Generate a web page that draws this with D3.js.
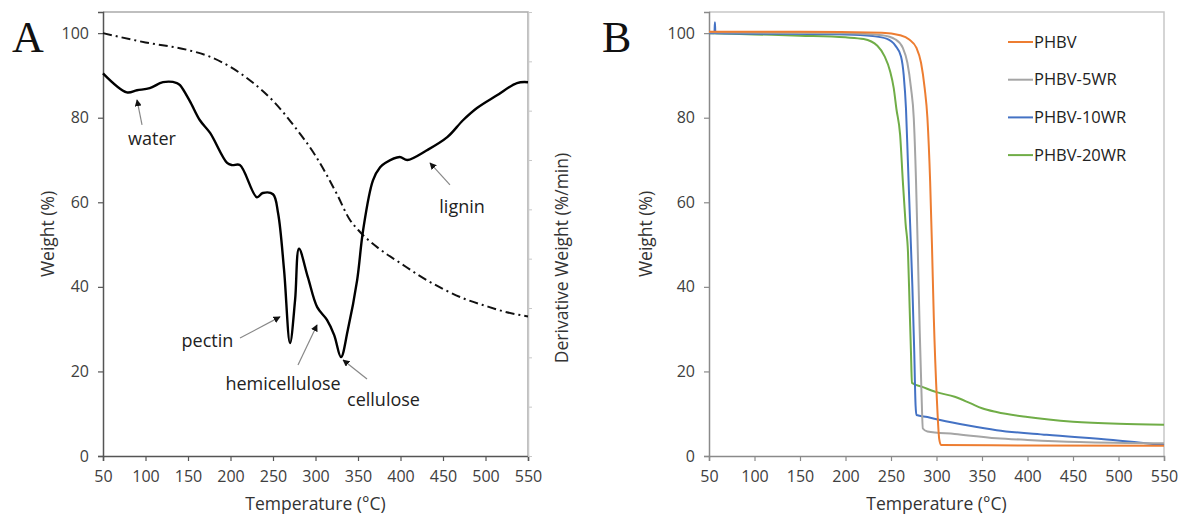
<!DOCTYPE html>
<html>
<head>
<meta charset="utf-8">
<script src="https://cdn.jsdelivr.net/npm/d3@7"></script>
<style>
  body { margin: 0; background: #fff; }
  text { font-family: "Open Sans", sans-serif; }
</style>
</head>
<body>
<div id="viz"></div>
<script>
// ---- panel A: weight loss + derivative ----
var tempDTG = [50, 78, 90, 105, 120.6, 137, 140.6, 152, 164, 176, 196, 202, 211, 231, 238, 250, 256, 263, 270, 276, 280.6, 291, 302, 313.5, 322, 330, 338, 349, 356, 367.6, 376, 382, 399, 408, 431, 455, 473.5, 490, 513.5, 537, 550];
var dtg     = [90.5, 86, 86.5, 87, 88.4, 88.2, 87.7, 84, 79.4, 76.4, 69.3, 68.8, 68.8, 61.2, 62.2, 61.9, 57.4, 44, 26.7, 36.9, 49, 42.3, 35.2, 32.2, 28.6, 23.4, 29.8, 41.6, 53.4, 65.2, 68.3, 69.3, 70.7, 70, 72.3, 75.4, 79.4, 82.3, 85.3, 88.2, 88.4];

var tempTG = [50, 100, 150, 175, 200, 225, 250, 275, 300, 325, 340, 350, 375, 400, 425, 450, 475, 500, 525, 550];
var tg     = [100, 97.8, 96, 94.5, 92, 88.5, 84, 78, 71, 62, 56, 53.5, 49, 45.6, 42.3, 39.5, 37.2, 35.5, 34, 33];

var notes = [
  {label: "water",         tx: 107.6, ty: 73.5, x1: 95.9,  y1: 78.3, x2: 90,    y2: 84.2},
  {label: "lignin",        tx: 472.4, ty: 57.4, x1: 458.2, y1: 64.1, x2: 434.7, y2: 69.3},
  {label: "pectin",        tx: 172.9, ty: 25.8, x1: 211.2, y1: 27.9, x2: 258.2, y2: 32.9},
  {label: "hemicellulose", tx: 261.8, ty: 15.6, x1: 279.4, y1: 21.5, x2: 301.8, y2: 31},
  {label: "cellulose",     tx: 380,   ty: 11.8, x1: 360.6, y1: 18.2, x2: 332.4, y2: 22.7}
];

// ---- panel B: TGA of composites ----
var seriesNames = ["PHBV", "PHBV-5WR", "PHBV-10WR", "PHBV-20WR"];
var seriesColors = ["#ED7D31", "#A5A5A5", "#4472C4", "#70AD47"];

var tPHBV = [50, 150, 240, 260, 270, 278, 283, 287, 290, 293, 295, 297, 300.5, 303, 305, 400, 550];
var wPHBV = [100.3, 100.3, 100.1, 99.5, 98.5, 96.5, 93, 87, 80, 65, 50, 33, 13, 4, 2.6, 2.5, 2.4];

var t5WR = [50, 200, 240, 255, 263, 268, 272, 275, 277.5, 279.5, 281.5, 283.5, 285, 290, 320, 366, 400, 457, 550];
var w5WR = [100.2, 100, 99.5, 98.5, 96.5, 93, 87, 80, 65, 48, 30, 15, 6.5, 5.8, 5.2, 4.2, 3.8, 3.3, 3.0];

var t10WR = [50, 56, 56.5, 57, 200, 230, 245, 255, 261, 264, 266.5, 268.5, 271, 273.5, 275.5, 277, 278, 290, 304, 335, 366, 421, 494, 550];
var w10WR = [100, 100, 102.6, 100, 99.7, 99.3, 98.7, 97, 94.5, 90, 82, 70, 55, 40, 25, 12, 9.7, 9.2, 8.5, 7.2, 6.1, 5.0, 3.8, 2.6];

var t20WR = [50, 100, 150, 200, 220, 235, 243, 249, 253, 256, 260, 263, 266, 268.7, 270.5, 272, 273, 285, 300, 320, 337, 350, 366, 400, 450, 500, 550];
var w20WR = [100, 99.7, 99.4, 99, 98.6, 97, 94.5, 91, 87, 82, 76, 65, 55, 48, 35, 24, 17.3, 16.3, 15.1, 14, 12.5, 11.3, 10.4, 9.2, 8.1, 7.6, 7.4];

var xTicks = d3.range(50, 551, 50);
var yTicks = [0, 20, 40, 60, 80, 100];

var width = 1192, height = 518;
var svg = d3.select("#viz").append("svg").attr("width", width).attr("height", height);

svg.append("defs").append("marker")
    .attr("id", "head")
    .attr("viewBox", "0 0 10 10")
    .attr("refX", 9).attr("refY", 5)
    .attr("markerWidth", 7).attr("markerHeight", 7)
    .attr("markerUnits", "userSpaceOnUse")
    .attr("orient", "auto")
  .append("path")
    .attr("d", "M0,0 L10,5 L0,10 Z")
    .attr("fill", "#111");

function frame(left, right, top, bottom, dark, titleGap) {
  var x = d3.scaleLinear().domain([50, 550]).range([left, right]);
  var y = d3.scaleLinear().domain([0, 105]).range([bottom, top]);

  // top / right border
  svg.append("path")
      .attr("d", "M" + left + "," + top + " H" + right + " V" + bottom)
      .attr("fill", "none")
      .attr("stroke", dark ? "#aaa" : "#c8c8c8")
      .attr("stroke-width", 1.5);

  var gx = svg.append("g")
      .attr("transform", "translate(0," + bottom + ")")
      .call(d3.axisBottom(x).tickValues(xTicks).tickSizeOuter(0).tickSize(5).tickPadding(10));
  var gy = svg.append("g")
      .attr("transform", "translate(" + left + ",0)")
      .call(d3.axisLeft(y).tickValues(yTicks).tickSizeOuter(0).tickSize(5).tickPadding(9));

  [gx, gy].forEach(function(g) {
    g.select(".domain").attr("stroke", dark ? "#555" : "#8a8a8a").attr("stroke-width", 1.5);
    g.selectAll(".tick line").attr("stroke", dark ? "#555" : "#8a8a8a").attr("stroke-width", 1.2);
    g.selectAll(".tick text").attr("fill", "#404040").style("font-size", "16px");
  });

  svg.append("text")
      .attr("x", (left + right) / 2).attr("y", 510)
      .attr("text-anchor", "middle")
      .attr("fill", "#333")
      .style("font-size", "17.5px")
      .text("Temperature (°C)");

  svg.append("text")
      .attr("transform", "translate(" + (left - titleGap) + "," + ((top + bottom) / 2) + ") rotate(-90)")
      .attr("text-anchor", "middle")
      .attr("fill", "#333")
      .style("font-size", "17.5px")
      .text("Weight (%)");

  return {x: x, y: y};
}

// ---------- A ----------
var A = frame(103, 528, 12, 456, true, 49);

// secondary (unlabelled) derivative axis
var yD = d3.scaleLinear().domain([0, 9]).range([456, 12]);
var gd = svg.append("g")
    .attr("transform", "translate(528,0)")
    .call(d3.axisRight(yD).ticks(9).tickSize(4).tickSizeOuter(0).tickFormat(""));
gd.select(".domain").attr("stroke", "#c8c8c8").attr("stroke-width", 1.5);
gd.selectAll(".tick line").attr("stroke", "#c8c8c8");

svg.append("text")
    .attr("transform", "translate(568,258) rotate(-90)")
    .attr("text-anchor", "middle")
    .attr("fill", "#333")
    .style("font-size", "17.5px")
    .text("Derivative Weight (%/min)");

var lineTG = d3.line()
    .x(function(d, i) { return A.x(tempTG[i]); })
    .y(function(d) { return A.y(d); })
    .curve(d3.curveMonotoneX);

svg.append("path")
    .attr("d", lineTG(tg))
    .attr("fill", "none")
    .attr("stroke", "#111")
    .attr("stroke-width", 2)
    .attr("stroke-dasharray", "9,4,2,4");

var lineDTG = d3.line()
    .x(function(d, i) { return A.x(tempDTG[i]); })
    .y(function(d) { return A.y(d); })
    .curve(d3.curveCatmullRom.alpha(0.5));

svg.append("path")
    .attr("d", lineDTG(dtg))
    .attr("fill", "none")
    .attr("stroke", "#000")
    .attr("stroke-width", 2.4)
    .attr("stroke-linejoin", "round");

notes.forEach(function(n) {
  svg.append("line")
      .attr("x1", A.x(n.x1)).attr("y1", A.y(n.y1))
      .attr("x2", A.x(n.x2)).attr("y2", A.y(n.y2))
      .attr("stroke", "#888")
      .attr("stroke-width", 1.2)
      .attr("marker-end", "url(#head)");
  svg.append("text")
      .attr("x", A.x(n.tx)).attr("y", A.y(n.ty))
      .attr("text-anchor", "middle")
      .attr("fill", "#222")
      .style("font-size", "18px")
      .text(n.label);
});

svg.append("text")
    .attr("x", 12).attr("y", 52)
    .style("font-family", "'Liberation Serif', 'DejaVu Serif', serif")
    .style("font-size", "44px")
    .attr("fill", "#111")
    .text("A");

// ---------- B ----------
var B = frame(709, 1164, 12, 456, false, 57);

var temps = [tPHBV, t5WR, t10WR, t20WR];
var weights = [wPHBV, w5WR, w10WR, w20WR];

// draw back to front so orange sits on top like the original
[3, 2, 1, 0].forEach(function(k) {
  var line = d3.line()
      .x(function(d, i) { return B.x(temps[k][i]); })
      .y(function(d) { return B.y(d); })
      .curve(d3.curveMonotoneX);
  svg.append("path")
      .attr("d", line(weights[k]))
      .attr("fill", "none")
      .attr("stroke", seriesColors[k])
      .attr("stroke-width", 2);
});

var legend = svg.append("g").attr("transform", "translate(1008,42)");
seriesNames.forEach(function(name, i) {
  var g = legend.append("g").attr("transform", "translate(0," + (i * 37.7) + ")");
  g.append("line")
      .attr("x1", 0).attr("x2", 25)
      .attr("stroke", seriesColors[i])
      .attr("stroke-width", 2);
  g.append("text")
      .attr("x", 26).attr("dy", "0.35em")
      .attr("fill", "#222")
      .style("font-size", "16.5px")
      .text(name);
});

svg.append("text")
    .attr("x", 602).attr("y", 52)
    .style("font-family", "'Liberation Serif', 'DejaVu Serif', serif")
    .style("font-size", "44px")
    .attr("fill", "#111")
    .text("B");
</script>
</body>
</html>
